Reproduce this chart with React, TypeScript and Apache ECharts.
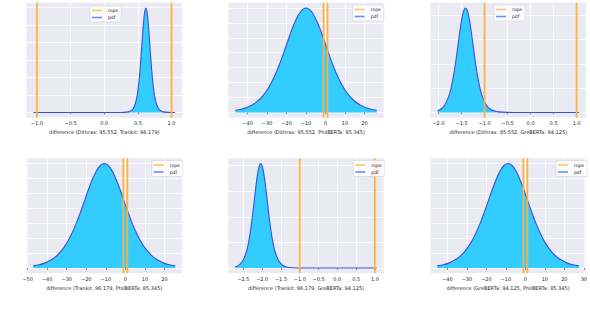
import React, { useEffect, useRef } from "react";
import * as echarts from "echarts";

// ---------- data ----------
const xLabels = [
  "difference (Dithrax: 95.552, Trankit: 96.179)",
  "difference (Dithrax: 95.552, PhilBERTa: 85.345)",
  "difference (Dithrax: 95.552, GreBERTa: 94.125)",
  "difference (Trankit: 96.179, PhilBERTa: 85.345)",
  "difference (Trankit: 96.179, GreBERTa: 94.125)",
  "difference (GreBERTa: 94.125, PhilBERTa: 85.345)",
];
const ropeBounds = [-1, 1];

const ticks1 = [-1, -0.5, 0, 0.5, 1];
const ticks2 = [-40, -30, -20, -10, 0, 10, 20];
const ticks3 = [-2, -1.5, -1, -0.5, 0, 0.5, 1];
const ticks4 = [-50, -40, -30, -20, -10, 0, 10, 20];
const ticks5 = [-2.5, -2, -1.5, -1, -0.5, 0, 0.5, 1];
const ticks6 = [-40, -30, -20, -10, 0, 10, 20, 30];

const pdf1X = [-1.05, -0.5, 0.0, 0.228, 0.293, 0.358, 0.3905, 0.423, 0.4555, 0.488, 0.5043, 0.5205, 0.5368, 0.553, 0.5693, 0.5855, 0.6018, 0.618, 0.6343, 0.6505, 0.6668, 0.683, 0.6993, 0.7155, 0.7318, 0.748, 0.7805, 0.813, 0.8455, 0.878, 0.943, 1.008, 1.05];
const pdf1Y = [0, 0, 0.00004, 0.0018, 0.0078, 0.0358, 0.0818, 0.187, 0.427, 0.949, 1.379, 1.958, 2.681, 3.522, 4.412, 5.206, 5.767, 5.97, 5.767, 5.206, 4.412, 3.522, 2.681, 1.958, 1.379, 0.949, 0.427, 0.187, 0.0818, 0.0358, 0.0078, 0.0018, 0.0009];

const pdf2X = [-46.3, -43.3, -40.5, -37.75, -34.98, -32.2, -29.43, -26.65, -23.88, -21.1, -18.33, -15.55, -12.78, -10, -7.23, -4.45, -1.68, 1.1, 3.88, 6.65, 9.43, 12.2, 14.98, 17.75, 20.53, 23.3, 26.3];
const pdf2Y = [0.00074, 0.0011, 0.00166, 0.00251, 0.00376, 0.00557, 0.00809, 0.01148, 0.01572, 0.02065, 0.02587, 0.03052, 0.03381, 0.035, 0.03381, 0.03052, 0.02587, 0.02065, 0.01572, 0.01148, 0.00809, 0.00557, 0.00376, 0.00251, 0.00166, 0.0011, 0.00074];

const pdf3X = [-2.02, -1.953, -1.863, -1.773, -1.728, -1.683, -1.638, -1.593, -1.548, -1.503, -1.458, -1.413, -1.368, -1.323, -1.278, -1.233, -1.188, -1.143, -1.098, -1.053, -0.963, -0.873, -0.783, -0.693, -0.513, -0.333, 0.0, 1.05];
const pdf3Y = [0.0366, 0.0675, 0.1544, 0.343, 0.498, 0.707, 0.968, 1.272, 1.593, 1.88, 2.083, 2.156, 2.083, 1.88, 1.593, 1.272, 0.968, 0.707, 0.498, 0.343, 0.1544, 0.0675, 0.0295, 0.0129, 0.0028, 0.0007, 0.00007, 0];

const pdf4X = [-47.1, -44.1, -41.3, -38.55, -35.78, -33.0, -30.23, -27.45, -24.68, -21.9, -19.13, -16.35, -13.58, -10.8, -8.03, -5.25, -2.48, 0.3, 3.08, 5.85, 8.63, 11.4, 14.18, 16.95, 19.73, 22.5, 25.5];
const pdf4Y = [0.00074, 0.0011, 0.00166, 0.00251, 0.00376, 0.00557, 0.00809, 0.01148, 0.01572, 0.02065, 0.02587, 0.03052, 0.03381, 0.035, 0.03381, 0.03052, 0.02587, 0.02065, 0.01572, 0.01148, 0.00809, 0.00557, 0.00376, 0.00251, 0.00166, 0.0011, 0.00074];

const pdf5X = [-2.716, -2.61, -2.515, -2.42, -2.3725, -2.325, -2.2775, -2.23, -2.1825, -2.135, -2.0875, -2.04, -1.9925, -1.945, -1.8975, -1.85, -1.8025, -1.755, -1.7075, -1.66, -1.565, -1.47, -1.375, -1.28, -1.09, -0.9, -0.52, 1.05];
const pdf5Y = [0.0253, 0.0638, 0.146, 0.324, 0.471, 0.669, 0.916, 1.204, 1.508, 1.779, 1.971, 2.04, 1.971, 1.779, 1.508, 1.204, 0.916, 0.669, 0.471, 0.324, 0.146, 0.0638, 0.0279, 0.0122, 0.00265, 0.00065, 0.00003, 0];

const pdf6X = [-45.2, -42.2, -39.4, -36.65, -33.88, -31.1, -28.33, -25.55, -22.78, -20.0, -17.23, -14.45, -11.68, -8.9, -6.13, -3.35, -0.58, 2.2, 4.98, 7.75, 10.53, 13.3, 16.08, 18.85, 21.63, 24.4, 27.4];
const pdf6Y = [0.00074, 0.0011, 0.00166, 0.00251, 0.00376, 0.00557, 0.00809, 0.01148, 0.01572, 0.02065, 0.02587, 0.03052, 0.03381, 0.035, 0.03381, 0.03052, 0.02587, 0.02065, 0.01572, 0.01148, 0.00809, 0.00557, 0.00376, 0.00251, 0.00166, 0.0011, 0.00074];

const xMins = [-1.155, -49.9, -2.174, -50.6, -2.904, -48.7];
const xMaxs = [1.155, 29.9, 1.204, 29.0, 1.238, 30.9];
const yPeaks = [5.97, 0.035, 2.156, 0.035, 2.04, 0.035];
const ySteps = [1, 0.005, 0.5, 0.005, 0.5, 0.005];
const tickDecimals = [1, 0, 1, 0, 1, 0];

// ---------- layout ----------
const FONT = "DejaVu Sans";
const GRIDS = [
  { left: 26.5, top: 2.7, width: 155.5, height: 115 },
  { left: 228.3, top: 2.7, width: 155.5, height: 115 },
  { left: 430.5, top: 2.7, width: 155.5, height: 115 },
  { left: 26.5, top: 158.3, width: 155.5, height: 115 },
  { left: 228.3, top: 158.3, width: 155.5, height: 115 },
  { left: 430.5, top: 158.3, width: 155.5, height: 115 },
];
const LEGEND_POS = [
  { left: 90, top: 6 },
  { left: 352.7, top: 5 },
  { left: 494, top: 5 },
  { left: 151.7, top: 160.5 },
  { left: 353.3, top: 160.5 },
  { left: 556, top: 160.5 },
];

const ROPE_COLOR = "#ffb040";
const PDF_LINE = "#3c4fd6";
const PDF_FILL = "#33ccff";

export default function App() {
  const ref = useRef<HTMLDivElement>(null);
  useEffect(() => {
    if (!ref.current) return;
    const chart = echarts.init(ref.current, undefined, { renderer: "svg" });
    const xs = [pdf1X, pdf2X, pdf3X, pdf4X, pdf5X, pdf6X];
    const ys = [pdf1Y, pdf2Y, pdf3Y, pdf4Y, pdf5Y, pdf6Y];
    const ticks = [ticks1, ticks2, ticks3, ticks4, ticks5, ticks6];

    const grid: any[] = [];
    const xAxis: any[] = [];
    const yAxis: any[] = [];
    const series: any[] = [];
    const legend: any[] = [];

    for (let i = 0; i < 6; i++) {
      const peak = yPeaks[i];
      const yMin = -0.05 * peak;
      const yMax = 1.05 * peak;
      const yTicks: number[] = [];
      for (let v = 0; v <= yMax + 1e-12; v += ySteps[i]) yTicks.push(+v.toFixed(6));
      grid.push({
        ...GRIDS[i],
        show: true,
        backgroundColor: "#eaeaf2",
        borderWidth: 0,
        containLabel: false,
      });
      const dec = tickDecimals[i];
      xAxis.push({
        gridIndex: i,
        type: "value",
        min: xMins[i],
        max: xMaxs[i],
        axisLine: { show: false },
        axisTick: {
          show: true,
          length: 2,
          lineStyle: { color: "#333", width: 0.6 },
          customValues: ticks[i],
        },
        axisLabel: {
          customValues: ticks[i],
          fontSize: 5,
          color: "#262626",
          fontFamily: FONT,
          margin: 3,
          formatter: (v: number) => v.toFixed(dec).replace("-", "\u2212"),
        },
        splitLine: { show: true, lineStyle: { color: "#ffffff", width: 0.8 } },
        name: xLabels[i],
        nameLocation: "middle",
        nameGap: 12,
        nameTextStyle: { fontSize: 5, color: "#262626", fontFamily: FONT },
      });
      yAxis.push({
        gridIndex: i,
        type: "value",
        min: yMin,
        max: yMax,
        axisLine: { show: false },
        axisTick: { show: false, customValues: yTicks },
        axisLabel: { show: false, customValues: yTicks },
        splitLine: { show: true, lineStyle: { color: "#ffffff", width: 0.8 } },
      });
      series.push({
        type: "line",
        name: "pdf",
        xAxisIndex: i,
        yAxisIndex: i,
        data: xs[i].map((x, k) => [x, ys[i][k]]),
        showSymbol: false,
        smooth: 0.35,
        lineStyle: { color: PDF_LINE, width: 1.1 },
        itemStyle: { color: PDF_LINE },
        areaStyle: { color: PDF_FILL, opacity: 1 },
        silent: true,
        z: 2,
      });
      for (const r of ropeBounds) {
        series.push({
          type: "line",
          name: "rope",
          xAxisIndex: i,
          yAxisIndex: i,
          data: [
            [r, yMin],
            [r, yMax],
          ],
          showSymbol: false,
          lineStyle: { color: ROPE_COLOR, width: 1.8 },
          itemStyle: { color: ROPE_COLOR },
          silent: true,
          z: 3,
        });
      }
      legend.push({
        ...LEGEND_POS[i],
        orient: "vertical",
        data: [
          { name: "rope", icon: "rect", itemStyle: { color: "#ffc46e" } },
          { name: "pdf", icon: "rect", itemStyle: { color: "#6f8ff0" } },
        ],
        itemWidth: 10,
        itemHeight: 1.6,
        itemGap: 2,
        padding: [2, 3, 2, 2],
        backgroundColor: "rgba(255,255,255,0.8)",
        borderColor: "#cccccc",
        borderWidth: 0.5,
        borderRadius: 1.5,
        selectedMode: false,
        textStyle: { fontSize: 4.5, color: "#262626", fontFamily: FONT, padding: [0, 0, 0, 1] },
      });
    }

    chart.setOption({
      animation: false,
      backgroundColor: "#ffffff",
      grid,
      xAxis,
      yAxis,
      series,
      legend,
    });
    return () => chart.dispose();
  }, []);
  return (
    <div
      ref={ref}
      style={{ position: "fixed", left: 0, top: 0, width: 590, height: 322, background: "#fff" }}
    />
  );
}
